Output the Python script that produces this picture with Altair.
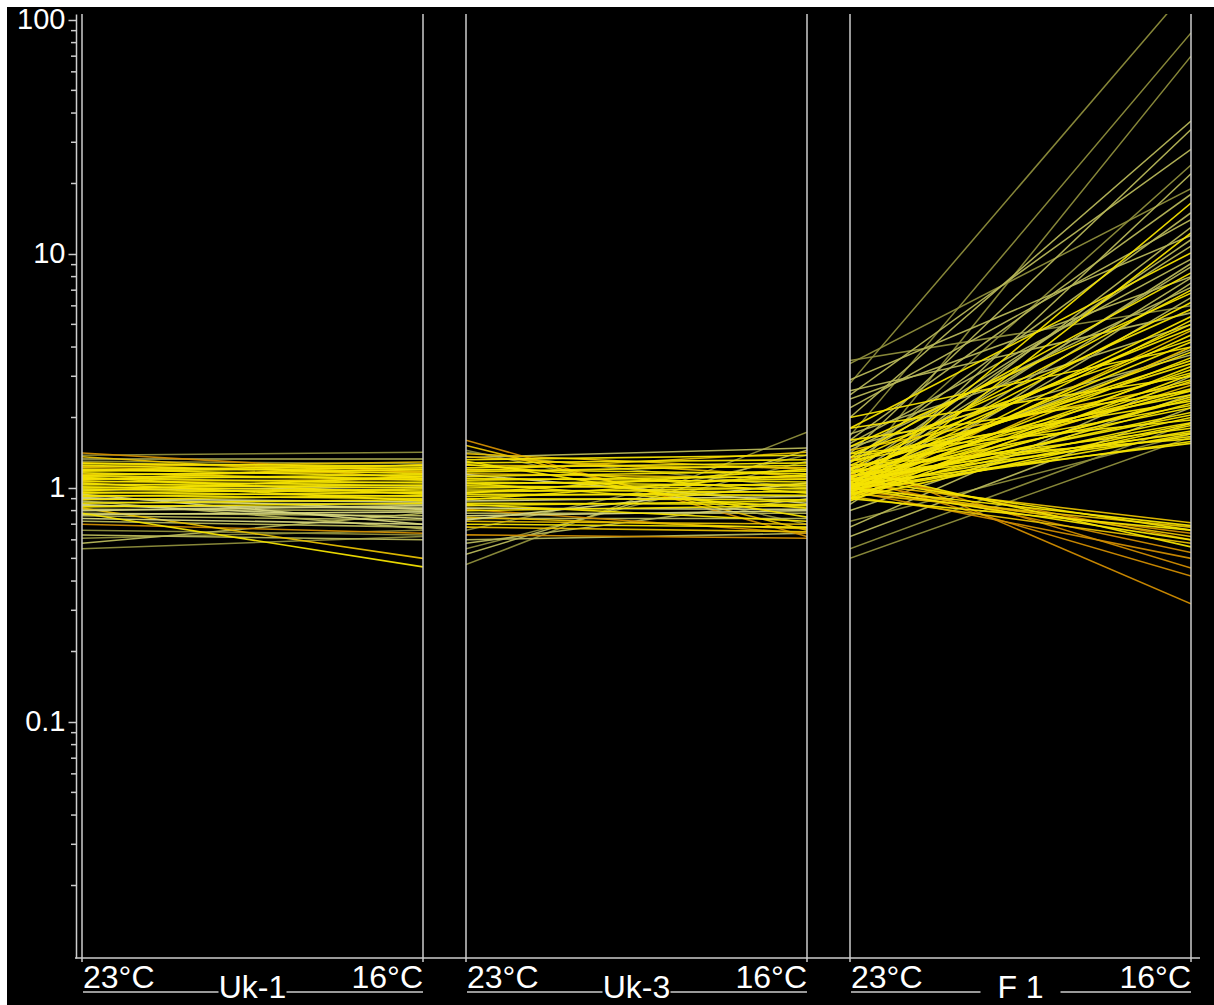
import altair as alt
import pandas as pd

# Relative expression (fold change) of each gene at 23°C and 16°C, per line.
# Tone codes: Y yellow, G gold, O orange, L olive, K khaki, P pale
conditions = ["23°C", "16°C"]
panels = ["Uk-1", "Uk-3", "F 1"]

uk1_23 = [1.41, 1.38, 1.33, 1.30, 1.36, 1.28, 0.55, 0.58, 0.61, 0.63, 0.78, 0.82,
          0.66, 0.70, 0.72, 0.74, 1.25, 1.22, 1.20, 1.18, 1.16, 1.14, 1.12, 1.10,
          1.09, 1.07, 1.06, 1.04, 1.03, 1.01, 1.00, 0.99, 0.98, 0.96, 0.95, 0.93,
          0.92, 0.90, 0.89, 0.87, 0.86, 0.84, 0.83, 0.81, 0.80, 0.78, 0.77, 0.76,
          1.27, 1.23, 1.19, 1.13, 0.94, 0.88, 0.85, 1.05, 0.97, 1.11, 0.91, 1.08]
uk1_16 = [1.16, 1.42, 1.33, 1.27, 1.10, 1.20, 0.62, 0.78, 0.66, 0.60, 0.46, 0.50,
          0.63, 0.64, 0.68, 0.70, 1.15, 1.18, 1.12, 1.22, 1.08, 1.17, 1.10, 1.05,
          1.14, 1.02, 1.09, 1.00, 1.06, 0.97, 1.03, 0.95, 1.01, 0.92, 0.99, 0.90,
          0.96, 0.87, 0.93, 0.85, 0.89, 0.82, 0.86, 0.80, 0.84, 0.76, 0.79, 0.73,
          1.24, 1.29, 1.25, 1.20, 0.70, 0.67, 0.74, 0.88, 1.12, 0.94, 0.81, 1.26]
uk1_tone = list("OLKLGGLKLKYGLOKP" "YGYYYGYYYYGYYYYYPYYYYPYKYPYKPKPK" "YGYYPKPYYYPG")

uk3_23 = [1.60, 1.52, 1.45, 0.47, 0.52, 0.55, 0.60, 0.63, 1.40, 1.35, 0.66, 0.68,
          1.30, 0.58, 1.42, 1.28, 1.25, 1.22, 1.20, 1.17, 1.15, 1.12, 1.10, 1.08,
          1.06, 1.04, 1.02, 1.00, 0.98, 0.96, 0.94, 0.92, 0.90, 0.88, 0.86, 0.84,
          0.82, 0.80, 0.78, 0.76, 0.74, 0.72, 0.70, 1.32, 1.18, 0.75, 0.85, 1.05,
          0.95, 1.14, 0.89, 0.81, 1.26, 0.73, 1.36]
uk3_16 = [0.62, 0.66, 0.70, 1.73, 1.45, 1.30, 0.64, 0.61, 1.20, 1.48, 1.38, 0.65,
          0.75, 0.90, 1.00, 1.32, 1.22, 1.28, 1.15, 1.25, 1.10, 1.18, 1.06, 1.12,
          1.02, 1.09, 0.99, 1.04, 0.96, 1.00, 0.93, 0.97, 0.89, 0.92, 0.85, 0.88,
          0.81, 0.84, 0.78, 0.80, 0.74, 0.70, 0.68, 1.38, 1.42, 0.67, 0.72, 0.82,
          1.20, 0.86, 1.14, 0.64, 0.95, 1.05, 1.12]
uk3_tone = list("OGLLKLKOGKLGYKL" "YGYYYGYYYYYYYYYYYYPYYPYKPKGY" "YGGYYYPYOYPG")

f1_23 = [2.80, 1.67, 1.10, 2.00, 1.40, 2.50, 1.20, 0.95, 3.40, 1.60, 1.00, 1.30,
         2.20, 0.90, 1.15, 1.80, 1.05, 1.35, 0.85, 1.50, 1.10, 2.60, 0.95, 1.25,
         3.50, 2.90, 2.40, 2.00, 1.80, 1.70, 1.60, 1.55, 0.62, 0.55, 0.68, 0.72,
         0.80, 0.50,
         1.00, 1.20, 0.90, 1.30, 1.05, 1.15, 0.95, 1.40, 1.10, 1.20, 0.90, 1.30,
         1.00, 1.15, 0.97, 1.22, 1.06, 0.94, 1.12, 1.45, 1.35, 1.50, 1.28, 1.12,
         0.98, 1.45,
         1.00, 1.05, 0.92, 1.10, 0.98, 1.20, 1.02, 0.88, 1.15, 0.96, 1.08, 1.30,
         1.00, 0.93, 1.12, 1.04, 0.97, 1.40, 1.06, 0.90, 1.18, 1.01, 0.95, 1.09,
         1.25, 0.99, 1.03,
         1.05, 1.00, 0.95, 1.10, 0.98, 1.02, 1.15, 0.92, 1.20, 1.08, 0.97, 1.25,
         1.12, 1.35, 0.90, 1.00]
f1_16 = [140.0, 88.0, 70.0, 37.0, 34.0, 28.0, 24.0, 22.0, 19.0, 18.0, 16.5, 15.0,
         14.0, 12.3, 11.5, 10.1, 9.1, 8.3, 7.5, 6.8, 6.2, 5.6, 5.2, 4.8,
         6.0, 12.0, 8.0, 4.0, 3.0, 5.0, 2.6, 9.5, 2.2, 1.9, 3.0, 1.7,
         2.5, 1.65,
         13.0, 7.0, 6.5, 5.8, 5.4, 5.0, 4.7, 4.3, 3.9, 3.5, 3.3, 3.1,
         2.85, 2.65, 2.45, 2.25, 2.05, 1.88, 1.72, 2.8, 2.35, 3.7, 10.8, 8.8,
         7.9, 7.2,
         4.5, 4.2, 4.0, 3.8, 3.6, 3.4, 3.2, 3.05, 2.9, 2.75, 2.6, 2.5,
         2.4, 2.3, 2.2, 2.1, 2.0, 1.95, 1.9, 1.85, 1.8, 1.75, 1.7, 1.66,
         1.62, 1.58, 1.55,
         0.71, 0.69, 0.68, 0.66, 0.64, 0.62, 0.60, 0.58, 0.56, 0.53, 0.50, 0.455,
         0.42, 0.32, 0.66, 0.60]
f1_tone = list("LLLKKKLKLKYKKYKYKYKYYKYY" "LKKYYKYK" "KLKLKL"
               "KYKYYYGYKYYY" "YYYYYYYGYKKK" "KK"
               "YYGYYYYYYGYY" "YYYYYYYYYYYY" "YYY"
               "GYGYOGOGYOOO" "OOYY")

minor_ticks = [m * 10.0 ** e for e in (-2, -1, 0, 1) for m in range(2, 10)]
major_ticks = [0.1, 1, 10, 100]

tones = ["L", "K", "O", "G", "P", "Y"]
tone_colors = ["#8e8e3c", "#b8b85a", "#d08c00", "#e6bf00", "#d6d680", "#f4e300"]
tone_widths = [1.5, 1.6, 1.7, 2.0, 1.8, 2.3]

FONT = "Liberation Sans"
FRAME = "#cdcdcd"
W, H = 341, 944
LEFT, TOP = 82, 14          # page offset of the first panel
PAGE_W, PAGE_H = 1214, 1005
Y_SCALE = alt.Scale(type="log", domain=[0.0098, 106], nice=False)
X_SCALE = alt.Scale(type="point", padding=0, domain=conditions)
Y_AXIS = alt.Axis(values=major_ticks, format="~g", title=None, grid=False,
                  offset=6, domainColor=FRAME, domainWidth=1.5,
                  tickColor=FRAME, tickWidth=1.5, tickSize=8,
                  labelColor="white", labelFont=FONT, labelFontSize=29,
                  labelPadding=3)


def long_table(v23, v16, tone):
    rows = []
    order = sorted(range(len(v23)), key=lambda i: tones.index(tone[i]))
    for i in order:
        rows.append({"gene": i, "cond": conditions[0], "value": v23[i], "tone": tone[i]})
        rows.append({"gene": i, "cond": conditions[1], "value": v16[i], "tone": tone[i]})
    return pd.DataFrame(rows)


def one(**kw):
    return alt.Chart(pd.DataFrame([kw] if kw else [{"k": 0}]))


def panel(name, v23, v16, tone, first):
    layers = []
    y_axis = Y_AXIS if first else None
    layers.append(alt.Chart(long_table(v23, v16, tone)).mark_line(
        clip=True, opacity=0.95).encode(
        x=alt.X("cond:N", scale=X_SCALE, axis=None),
        y=alt.Y("value:Q", scale=Y_SCALE, axis=y_axis),
        detail="gene:N",
        color=alt.Color("tone:N", scale=alt.Scale(domain=tones, range=tone_colors),
                        legend=None),
        strokeWidth=alt.StrokeWidth("tone:N",
                                    scale=alt.Scale(domain=tones, range=tone_widths),
                                    legend=None)))
    if first:
        # invisible frame fixing the page extent, plus the thin white page edges
        layers.append(one().mark_rect(color="black", opacity=0).encode(
            x=alt.value(-LEFT), x2=alt.value(PAGE_W - LEFT),
            y=alt.value(-TOP), y2=alt.value(PAGE_H - TOP)))
        layers.append(one().mark_rect(color="white").encode(
            x=alt.value(-LEFT), x2=alt.value(PAGE_W - LEFT),
            y=alt.value(-TOP), y2=alt.value(-TOP + 7)))
        layers.append(one().mark_rect(color="white").encode(
            x=alt.value(-LEFT), x2=alt.value(-LEFT + 7),
            y=alt.value(-TOP), y2=alt.value(PAGE_H - TOP)))
        # minor log ticks beside the axis (same axis definition so it merges)
        layers.append(alt.Chart(pd.DataFrame({"v": minor_ticks})).mark_rule(
            color=FRAME, strokeWidth=1.5).encode(
            y=alt.Y("v:Q", scale=Y_SCALE, axis=Y_AXIS),
            x=alt.value(-11), x2=alt.value(-6)))
        # baseline running under all panels
        layers.append(one().mark_rule(color=FRAME, strokeWidth=1.5).encode(
            x=alt.value(-7), x2=alt.value(1200 - LEFT), y=alt.value(H)))
    # panel frame lines at both temperatures
    for xpos in (0, W):
        layers.append(one().mark_rule(color=FRAME, strokeWidth=1.5).encode(
            x=alt.value(xpos), y=alt.value(0), y2=alt.value(H + 4)))
    # temperature labels
    layers.append(one(t=conditions[0]).mark_text(
        align="left", baseline="alphabetic", font=FONT, fontSize=32, color="white").encode(
        text="t:N", x=alt.value(1), y=alt.value(974)))
    layers.append(one(t=conditions[1]).mark_text(
        align="right", baseline="alphabetic", font=FONT, fontSize=32, color="white").encode(
        text="t:N", x=alt.value(W), y=alt.value(974)))
    # group label with its underline
    gap = 40 if name == "F 1" else 34
    for a, b in ((1, W / 2 - gap), (W / 2 + gap, W)):
        layers.append(one().mark_rule(color=FRAME, strokeWidth=1.5).encode(
            x=alt.value(a), x2=alt.value(b), y=alt.value(978)))
    layers.append(one(t=name).mark_text(
        align="center", baseline="alphabetic", font=FONT, fontSize=32, color="white").encode(
        text="t:N", x=alt.value(W / 2), y=alt.value(984)))
    return alt.layer(*layers).properties(width=W, height=H)


chart = alt.hconcat(
    panel(panels[0], uk1_23, uk1_16, uk1_tone, True),
    panel(panels[1], uk3_23, uk3_16, uk3_tone, False),
    panel(panels[2], f1_23, f1_16, f1_tone, False),
    spacing=43, bounds="flush",
    padding={"left": 0, "top": 0, "right": 0, "bottom": 0},
).configure(background="black").configure_view(stroke=None)

chart.save("out.html", embed_options={"renderer": "svg", "actions": False})
